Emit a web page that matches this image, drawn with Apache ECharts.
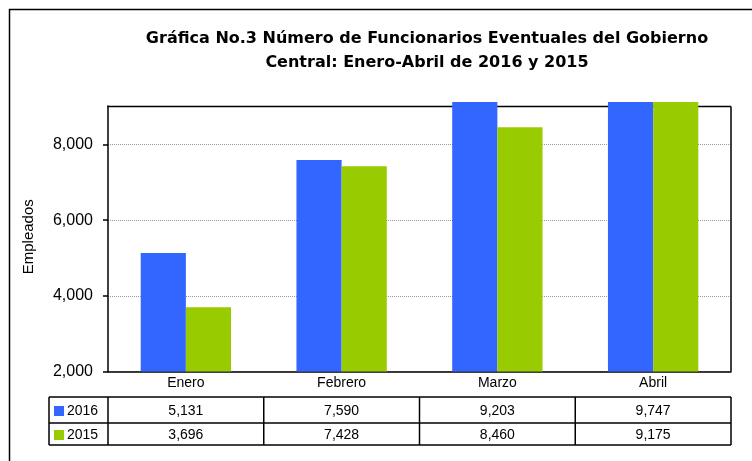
<!DOCTYPE html>
<html>
<head>
<meta charset="utf-8">
<script src="https://cdn.jsdelivr.net/npm/echarts@6/dist/echarts.min.js"></script>
<style>
  html, body { margin: 0; padding: 0; background: #fff; }
  #chart { width: 752px; height: 461px; }
</style>
</head>
<body>
<div id="chart"></div>
<script>
// datos
const categories = ['Enero', 'Febrero', 'Marzo', 'Abril']
const seriesNames = ['2016', '2015']
const values2016 = [5131, 7590, 9203, 9747]
const values2015 = [3696, 7428, 8460, 9175]
const yTicks = [2000, 4000, 6000, 8000]

const colors = ['#3366FF', '#99CC00']
const font = 'Liberation Sans, Arial, sans-serif'
const fmt = v => v.toLocaleString('en-US')

// layout del area de trazado
const gridLeft = 108
const gridRight = 731
const plotTop = 106.5   // marco superior (las barras lo sobrepasan un poco)
const axisY = 371.5
const rowLines = [397, 423, 445]
const tableLeft = 49

let myChart = echarts.init(document.getElementById('chart'))

let option = {
  animation: false,
  backgroundColor: '#fff',
  textStyle: { fontFamily: font },
  title: {
    text: 'Gráfica No.3 Número de Funcionarios Eventuales del Gobierno\nCentral: Enero-Abril de 2016 y 2015',
    left: 422,
    top: 22,
    textAlign: 'center',
    textStyle: {
      fontFamily: 'DejaVu Sans, sans-serif',
      fontSize: 16,
      fontWeight: 'bold',
      lineHeight: 24,
      color: '#000',
    },
  },
  grid: { left: gridLeft, right: 752 - gridRight, top: 102, bottom: 461 - axisY },
  xAxis: {
    type: 'category',
    data: categories,
    axisLine: { lineStyle: { color: '#000', width: 1.5 } },
    axisTick: { length: rowLines[0] - axisY, lineStyle: { color: '#000', width: 1.5 } },
    axisLabel: { color: '#000', fontSize: 14, margin: 5 },
  },
  yAxis: {
    type: 'value',
    min: 2000,
    max: 9125,
    interval: 2000,
    name: 'Empleados',
    nameLocation: 'middle',
    nameGap: 72,
    nameTextStyle: { color: '#000', fontSize: 15, fontFamily: font },
    axisLine: { show: true, lineStyle: { color: '#000', width: 1.5 } },
    axisTick: { show: true, length: 5, lineStyle: { color: '#000', width: 1.5 } },
    axisLabel: {
      color: '#000',
      fontSize: 16,
      margin: 15,
      showMaxLabel: false,
      formatter: v => (yTicks.includes(v) ? fmt(v) : ''),
    },
    splitLine: { lineStyle: { color: '#999', width: 1, type: 'dotted' } },
  },
  series: [
    {
      name: seriesNames[0],
      type: 'bar',
      data: values2016,
      itemStyle: { color: colors[0] },
      barGap: '0%',
      barCategoryGap: '42%',
    },
    {
      name: seriesNames[1],
      type: 'bar',
      data: values2015,
      itemStyle: { color: colors[1] },
      barGap: '0%',
      barCategoryGap: '42%',
    },
  ],
}

myChart.setOption(option)

// tabla de datos y marco
const line = (x1, y1, x2, y2, w) => ({
  type: 'line',
  z: 1,
  shape: { x1, y1, x2, y2 },
  style: { stroke: '#000', lineWidth: w || 1.5 },
})

let els = []
// tapa la linea de division del maximo y el eje sobrante
els.push({ type: 'rect', z: 1, shape: { x: gridLeft - 4, y: 98, width: gridRight - gridLeft + 4, height: plotTop - 98 - 1 }, style: { fill: '#fff' } })
// marco exterior
els.push(line(9, 9.5, 752, 9.5, 1.5))
els.push(line(9.5, 9, 9.5, 461, 1.5))
// marco del area de trazado
els.push(line(gridLeft - 0.75, plotTop, gridRight, plotTop))
els.push(line(gridRight, plotTop, gridRight, axisY))

// filas de la tabla
els.push(line(tableLeft, rowLines[0], gridRight, rowLines[0]))
els.push(line(tableLeft, rowLines[1], gridRight, rowLines[1]))
els.push(line(tableLeft, rowLines[2], gridRight, rowLines[2]))
els.push(line(tableLeft, rowLines[0], tableLeft, rowLines[2]))
const colW = (gridRight - gridLeft) / categories.length
for (let i = 0; i <= categories.length; i++) {
  let x = gridLeft + colW * i
  els.push(line(x, rowLines[0], x, rowLines[2]))
}

const rows = [values2016, values2015]
rows.forEach((vals, r) => {
  let yc = (rowLines[r] + rowLines[r + 1]) / 2 + 1
  els.push({ type: 'rect', z: 1, shape: { x: 54, y: yc - 5, width: 10, height: 10 }, style: { fill: colors[r] } })
  els.push({ type: 'text', z: 1, x: 67, y: yc, style: { text: seriesNames[r], font: '14px ' + font, fill: '#000', verticalAlign: 'middle' } })
  vals.forEach((v, i) => {
    let xc = myChart.convertToPixel({ xAxisIndex: 0 }, categories[i])
    els.push({ type: 'text', z: 1, x: xc, y: yc, style: { text: fmt(v), font: '14px ' + font, fill: '#000', align: 'center', verticalAlign: 'middle' } })
  })
})

myChart.setOption({ graphic: { elements: els } })
</script>
</body>
</html>
